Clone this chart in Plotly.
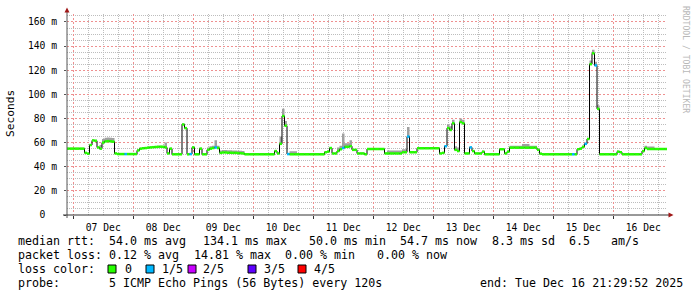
import plotly.graph_objects as go
from datetime import datetime, timedelta

# ---------------- data ----------------
END_TIME = datetime(2025, 12, 16, 21, 29, 52)
START_TIME = END_TIME - timedelta(days=10)
STEP_HOURS = 1

# hourly median RTT in ms (240 values)
median_ms = (
    [55.0] * 7
    + [51.5, 50.8, 58.0, 61.8, 61.5, 56.0, 55.0, 60.0, 61.0, 61.2, 61.0, 60.8, 51.0]
    + [50.5] * 8
    + [53.5, 55.0, 55.3, 55.5, 55.8, 56.0, 56.2, 56.4, 56.5, 56.6, 56.5, 56.0, 51.0, 55.0]
    + [50.3] * 4
    + [75.0, 72.0, 50.3, 50.5, 56.0, 50.3, 50.3, 55.0, 50.3, 50.3, 54.0, 55.0, 55.5, 56.0, 55.5]
    + [51.5, 51.8, 51.8, 51.6, 51.6, 51.5, 51.5, 51.3, 51.2, 51.0]
    + [50.3] * 12
    + [53.0, 51.0, 59.0, 82.0, 74.0, 50.5]
    + [50.3] * 14
    + [52.0, 52.5, 55.5, 51.0, 51.0, 53.0, 54.5, 55.5, 56.5, 56.5, 57.0, 54.0, 54.0, 51.0, 51.0, 51.0, 50.3]
    + [54.7] * 7
    + [51.0] * 7
    + [52.0, 52.0, 65.0, 52.0, 52.0, 52.0]
    + [55.3] * 9
    + [51.0, 51.5, 57.0, 72.0, 70.5, 76.0, 54.0, 53.0, 77.0, 76.0, 51.0, 51.0, 56.0, 53.0, 51.0, 51.0, 51.0, 52.5, 50.3]
    + [50.3] * 5
    + [54.5, 54.5, 51.0, 52.5]
    + [55.8] * 11
    + [54.0, 50.8]
    + [50.3] * 14
    + [54.5, 55.0, 56.5, 59.0, 63.0, 125.0, 134.0, 124.0, 88.0]
    + [50.3] * 7
    + [52.5, 52.0]
    + [50.3] * 8
    + [53.0, 55.5]
    + [54.7] * 8
)

# extent of the smoke above / below the median, ms
smoke_up = (
    [0.8] * 13 + [3.0] * 6 + [0.8] * 20 + [4.0] + [0.8] * 16 + [2.0, 2.0, 2.0, 6.0, 2.0]
    + [2.0] * 10 + [0.8] * 14 + [6.0, 6.0, 4.0] + [0.8] + [2.5] * 3 + [0.8] * 16
    + [3.0, 3.0, 12.0, 3.0, 3.0, 5.0] + [0.8] * 14 + [2.5] * 8 + [8.0] + [0.8] * 15
    + [3.0] * 7 + [0.8] * 18 + [1.5] * 5 + [3.0] * 3 + [1.5] * 3 + [0.8] * 21
    + [3.0] * 4 + [0.8] * 18 + [2.0] * 4 + [0.8] * 5
)
smoke_down = [0.5] * 240

# hours with 1/5 packet loss
loss_1of5_hours = [23, 49, 59, 88, 110, 136, 151, 161, 202, 207, 211]

y_tick_vals = [0, 20, 40, 60, 80, 100, 120, 140, 160]
y_tick_text = ["0\u00a0\u00a0", "20 m", "40 m", "60 m", "80 m", "100 m", "120 m", "140 m", "160 m"]

loss_labels = ["0", "1/5", "2/5", "3/5", "4/5"]
loss_colors = ["#26ff00", "#00b8ff", "#c800ff", "#5e00ff", "#ff0000"]

stats_median = ["median rtt:", "54.0 ms avg", "134.1 ms max", "50.0 ms min", "54.7 ms now", "8.3 ms sd", "6.5", "am/s"]
stats_loss = ["packet loss:", "0.12 % avg", "14.81 % max", "0.00 % min", "0.00 % now"]
probe_text = ["probe:", "5 ICMP Echo Pings (56 Bytes) every 120s"]
end_text = "end: Tue Dec 16 21:29:52 2025"

# ---------------- layout helpers (pixel geometry) ----------------
W, H = 697, 297
PL, PR, PT, PB = 67, 667, 14, 215
Y_TOP = 166.6


def px(x):
    return (x - PL) / (PR - PL)


def py(y):
    return (PB - y) / (PB - PT)


MONO = "DejaVu Sans Mono"

n = len(median_ms)
edges = [START_TIME + timedelta(hours=STEP_HOURS * i) for i in range(n + 1)]
edges_s = [e.strftime("%Y-%m-%d %H:%M:%S") for e in edges]

# minor grid positions (every 6 h / every 5 ms) that do not coincide with the major grid
first_midnight = datetime(START_TIME.year, START_TIME.month, START_TIME.day) + timedelta(days=1)
x_minor = []
t = first_midnight - timedelta(days=1)
while t < END_TIME:
    if t > START_TIME and t.hour != 0:
        x_minor.append(t.strftime("%Y-%m-%d %H:%M:%S"))
    t += timedelta(hours=6)
y_minor = [v for v in range(5, int(Y_TOP) + 1, 5) if v % 20 != 0]

lo = [m - d for m, d in zip(median_ms, smoke_down)]
hi = [m + u for m, u in zip(median_ms, smoke_up)]

fig = go.Figure()

# smoke band
fig.add_trace(go.Scatter(x=edges_s, y=lo + [lo[-1]], mode="lines", line=dict(width=0, shape="hv"),
                         showlegend=False, hoverinfo="skip"))
fig.add_trace(go.Scatter(x=edges_s, y=hi + [hi[-1]], mode="lines", line=dict(width=0, shape="hv"),
                         fill="tonexty", fillcolor="#a0a0a0", showlegend=False, hoverinfo="skip"))

# black step line of the median
fig.add_trace(go.Scatter(x=edges_s, y=median_ms + [median_ms[-1]], mode="lines",
                         line=dict(color="#000000", width=1, shape="hv"), showlegend=False, hoverinfo="skip"))

# loss-coloured horizontal pieces
for color, pick in ((loss_colors[0], lambda i: i not in loss_1of5_hours),
                    (loss_colors[1], lambda i: i in loss_1of5_hours)):
    xs, ys = [], []
    for i in range(n):
        if pick(i):
            xs += [edges_s[i], edges_s[i + 1], None]
            ys += [median_ms[i], median_ms[i], None]
    fig.add_trace(go.Scatter(x=xs, y=ys, mode="lines", line=dict(color=color, width=2.5),
                             showlegend=False, hoverinfo="skip", connectgaps=False))

shapes = []
annotations = []

# axes lines and arrows
shapes.append(dict(type="line", xref="paper", yref="paper", x0=px(67), x1=px(67), y0=py(218), y1=py(11),
                   line=dict(color="#555555", width=1)))
shapes.append(dict(type="line", xref="paper", yref="paper", x0=px(63), x1=px(669), y0=py(215), y1=py(215),
                   line=dict(color="#333333", width=1)))
shapes.append(dict(type="path", xref="paper", yref="paper",
                   path=f"M {px(64.5)} {py(12.5)} L {px(69.5)} {py(12.5)} L {px(67)} {py(7.5)} Z",
                   fillcolor="#a01818", line=dict(width=0)))
shapes.append(dict(type="path", xref="paper", yref="paper",
                   path=f"M {px(668.5)} {py(212.5)} L {px(668.5)} {py(217.5)} L {px(673.5)} {py(215)} Z",
                   fillcolor="#a01818", line=dict(width=0)))

# y title
annotations.append(dict(text="Seconds", xref="paper", yref="paper", x=px(11), y=py(114), textangle=-90,
                        showarrow=False, font=dict(family=MONO, size=11.2, color="#000000"),
                        xanchor="center", yanchor="middle"))
# watermark
annotations.append(dict(text="RRDTOOL / TOBI OETIKER", xref="paper", yref="paper", x=px(686), y=py(59),
                        textangle=90, showarrow=False, font=dict(family=MONO, size=8.1, color="#b8b8b8"),
                        xanchor="center", yanchor="middle"))


def txt(s, x, y):
    annotations.append(dict(text=s.replace(" ", "\u00a0"), xref="paper", yref="paper", x=px(x), y=py(y),
                            showarrow=False, xanchor="left", yanchor="middle",
                            font=dict(family=MONO, size=11.65, color="#000000")))


row1_x = [16, 107, 201, 307, 398, 490, 567, 609]
for s, x in zip(stats_median, row1_x):
    txt(s, x, 241)
row2_x = [16, 107, 192, 283, 375]
for s, x in zip(stats_loss, row2_x):
    txt(s, x, 255)
txt("loss color:", 16, 269)
sq_x = [108, 146, 188, 248, 298]
lab_x = [123, 160, 201, 262, 312]
for lab, col, sx, lx in zip(loss_labels, loss_colors, sq_x, lab_x):
    shapes.append(dict(type="rect", xref="paper", yref="paper", x0=px(sx), x1=px(sx + 8),
                       y0=py(273), y1=py(265), fillcolor=col, line=dict(color="#000000", width=1)))
    txt(lab, lx, 269)
txt(probe_text[0], 16, 283)
txt(probe_text[1], 107, 283)
txt(end_text, 478, 283)

MAJOR_GRID = "#ee9090"
MINOR_GRID = "#bdbdbd"
MAJOR_DASH = "2px,2px"
MINOR_DASH = "1px,1px"

fig.update_layout(
    width=W, height=H,
    margin=dict(l=PL, r=W - PR, t=PT, b=H - PB, pad=0),
    paper_bgcolor="#ffffff", plot_bgcolor="#ffffff",
    showlegend=False,
    shapes=shapes, annotations=annotations,
    xaxis=dict(
        type="date",
        range=[edges_s[0], edges_s[-1]],
        tick0="2025-12-07 00:00:00", dtick=86400000,
        ticklabelmode="period", tickformat="%d %b",
        showgrid=True, gridcolor=MAJOR_GRID, griddash=MAJOR_DASH, gridwidth=1,
        minor=dict(tickmode="array", tickvals=x_minor, showgrid=True, gridcolor=MINOR_GRID,
                   griddash=MINOR_DASH, gridwidth=1, ticks=""),
        ticks="outside", ticklen=3, tickcolor="#333333",
        tickfont=dict(family=MONO, size=9.7, color="#000000"),
        showline=False, zeroline=False, fixedrange=True,
    ),
    yaxis=dict(
        range=[0, Y_TOP],
        tickvals=y_tick_vals, ticktext=y_tick_text,
        showgrid=True, gridcolor=MAJOR_GRID, griddash=MAJOR_DASH, gridwidth=1,
        minor=dict(tickmode="array", tickvals=y_minor, showgrid=True, gridcolor=MINOR_GRID,
                   griddash=MINOR_DASH, gridwidth=1, ticks=""),
        ticks="outside", ticklen=2, tickcolor="#555555",
        ticklabelstandoff=5,
        tickfont=dict(family=MONO, size=9.7, color="#000000"),
        showline=False, zeroline=False, fixedrange=True,
    ),
)

fig.write_html("out.html")
